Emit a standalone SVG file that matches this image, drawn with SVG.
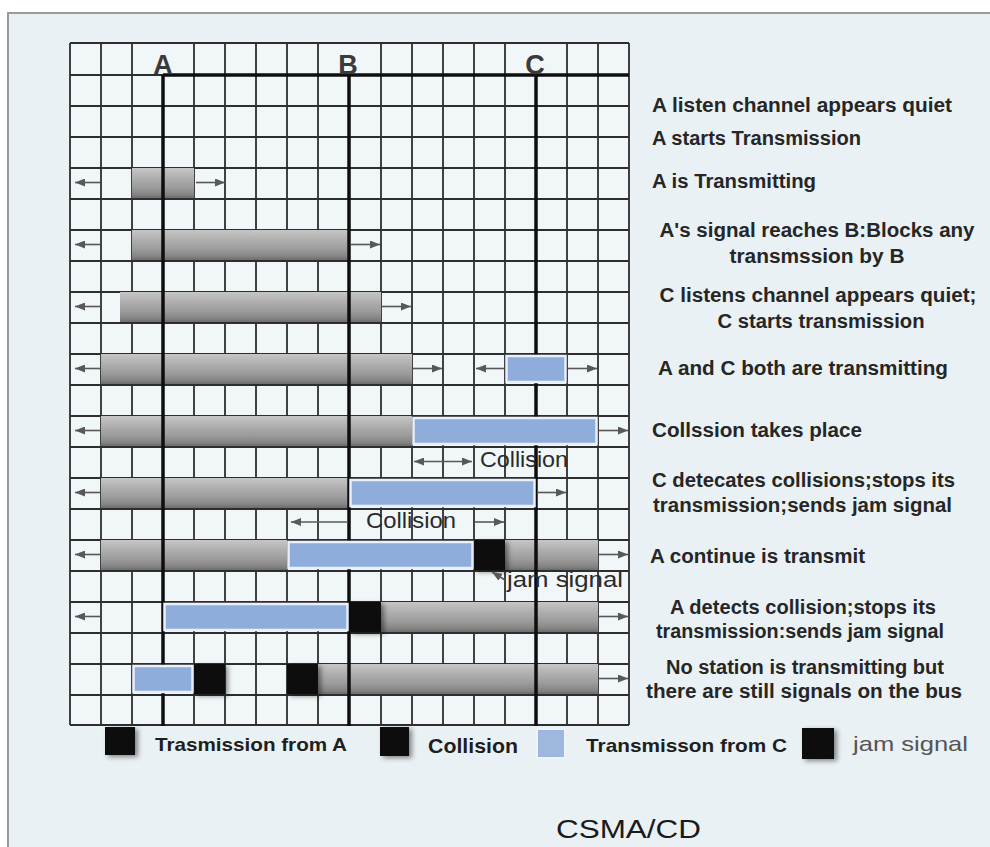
<svg xmlns="http://www.w3.org/2000/svg" width="990" height="847" viewBox="0 0 990 847">
<defs>
<style>
.grid{fill:none;stroke:#2e2e2e;stroke-width:1.8}
.bus{fill:none;stroke:#0e0e0e;stroke-width:3.5}
.gray{fill:url(#gGray)}
.blue{fill:#8eaddb;stroke:#e9f0fa;stroke-width:2.5}
.blk{fill:#0d0d0d;filter:url(#sh)}
.arr{fill:none;stroke:#585858;stroke-width:1.6;marker-end:url(#ah)}
.dbl{fill:none;stroke:#585858;stroke-width:1.6;marker-end:url(#ah);marker-start:url(#ah)}
.desc{font-family:"Liberation Sans",Arial,sans-serif;font-size:20px;font-weight:bold;fill:#262626}
.mid{text-anchor:middle}
.stn{font-family:"Liberation Sans",Arial,sans-serif;font-size:27px;font-weight:bold;fill:#3a3a3a;text-anchor:middle}
.lbl{font-family:"Liberation Sans",Arial,sans-serif;font-size:22px;fill:#2a2a2a}
.leg{font-family:"Liberation Sans",Arial,sans-serif;font-size:19px;font-weight:bold;fill:#1e1e1e}
</style>
<linearGradient id="gGray" x1="0" y1="0" x2="0" y2="1">
<stop offset="0" stop-color="#c6c6c6"/>
<stop offset="0.3" stop-color="#b1b1b1"/>
<stop offset="0.65" stop-color="#9b9b9b"/>
<stop offset="0.88" stop-color="#848484"/>
<stop offset="1" stop-color="#6c6c6c"/>
</linearGradient>
<filter id="sh" x="-30%" y="-30%" width="170%" height="170%">
<feDropShadow dx="3" dy="2" stdDeviation="2.5" flood-color="#000" flood-opacity="0.45"/>
</filter>
<marker id="ah" viewBox="0 0 10 8" refX="10" refY="4" markerWidth="10" markerHeight="8" markerUnits="userSpaceOnUse" orient="auto-start-reverse">
<path d="M0,0 L10,4 L0,8 z" fill="#585858"/>
</marker>
</defs>

<rect x="0" y="0" width="990" height="847" fill="#ffffff"/>
<rect id="panel" x="8" y="13" width="990" height="850" fill="#e9f1f4" stroke="#9b9b9b" stroke-width="2"/>
<rect x="70" y="43" width="559" height="682" fill="#f1f6f8"/>

<g id="grid">
<path class="grid" d="M70 43V725M101 43V725M132 43V725M194 43V725M225 43V725M256 43V725M287 43V725M318 43V725M381 43V725M412 43V725M443 43V725M474 43V725M505 43V725M567 43V725M598 43V725M629 43V725
M70 43H629M70 75H629M70 106H629M70 137H629M70 168H629M70 199H629M70 230H629M70 261H629M70 292H629M70 323H629M70 354H629M70 385H629M70 416H629M70 447H629M70 478H629M70 509H629M70 540H629M70 571H629M70 602H629M70 633H629M70 664H629M70 695H629M70 725H629"/>
</g>

<g id="gray-bars">
<rect class="gray" x="132" y="168" width="62" height="30"/>
<rect class="gray" x="132" y="230" width="217" height="30"/>
<rect class="gray" x="120" y="292" width="261" height="30"/>
<rect class="gray" x="101" y="354" width="311" height="30"/>
<rect class="gray" x="101" y="416" width="311" height="30"/>
<rect class="gray" x="101" y="478" width="248" height="30"/>
<rect class="gray" x="101" y="540" width="186" height="30"/>
<rect class="gray" x="505" y="540" width="93" height="30"/>
<rect class="gray" x="381" y="602" width="217" height="30"/>
<rect class="gray" x="318" y="664" width="280" height="30"/>
</g>

<g id="bus">
<path class="bus" d="M163 75H629M163 75V726M349 75V726M536 75V726"/>
</g>

<g id="stations">
<text id="station-a" class="stn" x="163" y="74">A</text>
<text id="station-b" class="stn" x="348" y="74">B</text>
<text id="station-c" class="stn" x="535" y="74">C</text>
</g>

<g id="signals">
<rect class="blue" x="506.5" y="356" width="59" height="26"/>
<rect class="blue" x="413.5" y="418" width="183" height="26"/>
<rect class="blue" x="350.5" y="480" width="184" height="26"/>
<rect class="blue" x="288.5" y="542" width="184" height="26"/>
<rect class="blk" x="474" y="540" width="31" height="30"/>
<rect class="blue" x="164.5" y="604" width="183" height="26"/>
<rect class="blk" x="349" y="602" width="32" height="30"/>
<rect class="blue" x="133.5" y="666" width="59" height="26"/>
<rect class="blk" x="194" y="664" width="31" height="30"/>
<rect class="blk" x="287" y="664" width="31" height="30"/>
</g>

<g id="connectors">
<path class="arr" d="M100 182.5H75"/>
<path class="arr" d="M100 244.5H75"/>
<path class="arr" d="M100 306.5H75"/>
<path class="arr" d="M100 368.5H75"/>
<path class="arr" d="M100 430.5H75"/>
<path class="arr" d="M100 492.5H75"/>
<path class="arr" d="M100 554.5H75"/>
<path class="arr" d="M100 616.5H75"/>
<path class="arr" d="M196 182.5H225"/>
<path class="arr" d="M351 244.5H380"/>
<path class="arr" d="M382 306.5H411"/>
<path class="arr" d="M413 368.5H442"/>
<path class="arr" d="M504 368.5H476"/>
<path class="arr" d="M568 368.5H597"/>
<path class="arr" d="M599 430.5H628"/>
<path class="arr" d="M537 492.5H566"/>
<path class="arr" d="M599 554.5H628"/>
<path class="arr" d="M599 616.5H628"/>
<path class="arr" d="M599 678.5H628"/>
<path class="dbl" d="M414 461.5H472"/>
<path class="arr" d="M348 522H291"/>
<path class="arr" d="M475 522H504"/>
<path class="arr" d="M505 580L492 572"/>
</g>

<g id="grid-labels">
<text class="lbl" x="480" y="467" textLength="88" lengthAdjust="spacingAndGlyphs">Collision</text>
<text class="lbl" x="366" y="528" textLength="90" lengthAdjust="spacingAndGlyphs">Collision</text>
<text class="lbl" x="507" y="587" textLength="116" lengthAdjust="spacingAndGlyphs">jam signal</text>
</g>

<g id="descriptions">
<text class="desc" x="652" y="112" textLength="300" lengthAdjust="spacingAndGlyphs">A listen channel appears quiet</text>
<text class="desc" x="652" y="145" textLength="209" lengthAdjust="spacingAndGlyphs">A starts Transmission</text>
<text class="desc" x="652" y="188" textLength="164" lengthAdjust="spacingAndGlyphs">A is Transmitting</text>
<text class="desc mid" x="817" y="237" textLength="315" lengthAdjust="spacingAndGlyphs">A's signal reaches B:Blocks any</text>
<text class="desc mid" x="817" y="263" textLength="175" lengthAdjust="spacingAndGlyphs">transmssion by B</text>
<text class="desc mid" x="818" y="302" textLength="317" lengthAdjust="spacingAndGlyphs">C listens channel appears quiet;</text>
<text class="desc mid" x="821" y="328" textLength="207" lengthAdjust="spacingAndGlyphs">C starts transmission</text>
<text class="desc" x="658" y="375" textLength="290" lengthAdjust="spacingAndGlyphs">A and C both are transmitting</text>
<text class="desc" x="652" y="437" textLength="210" lengthAdjust="spacingAndGlyphs">Collssion takes place</text>
<text class="desc" x="652" y="487" textLength="303" lengthAdjust="spacingAndGlyphs">C detecates collisions;stops its</text>
<text class="desc" x="653" y="512" textLength="299" lengthAdjust="spacingAndGlyphs">transmission;sends jam signal</text>
<text class="desc" x="650" y="563" textLength="215" lengthAdjust="spacingAndGlyphs">A continue is transmit</text>
<text class="desc mid" x="803" y="614" textLength="266" lengthAdjust="spacingAndGlyphs">A detects collision;stops its</text>
<text class="desc mid" x="800" y="638" textLength="288" lengthAdjust="spacingAndGlyphs">transmission:sends jam signal</text>
<text class="desc mid" x="805" y="674" textLength="278" lengthAdjust="spacingAndGlyphs">No station is transmitting but</text>
<text class="desc mid" x="804" y="698" textLength="316" lengthAdjust="spacingAndGlyphs">there are still signals on the bus</text>
</g>

<g id="legend">
<g id="legend-a">
<rect class="blk" x="105" y="727" width="30" height="28"/>
<text class="leg" x="155" y="751" textLength="192" lengthAdjust="spacingAndGlyphs">Trasmission from A</text>
</g>
<g id="legend-collision">
<rect class="blk" x="380" y="727" width="29" height="29"/>
<text class="leg" x="428" y="753" style="font-size:21px" textLength="90" lengthAdjust="spacingAndGlyphs">Collision</text>
</g>
<g id="legend-c">
<rect x="537" y="729" width="28" height="29" fill="#9db7df" stroke="#eef4fb" stroke-width="2"/>
<text class="leg" x="586" y="752" textLength="201" lengthAdjust="spacingAndGlyphs">Transmisson from C</text>
</g>
<g id="legend-jam">
<rect class="blk" x="802" y="728" width="32" height="31"/>
<text x="853" y="751" font-family="Liberation Sans, Arial, sans-serif" font-size="21" fill="#555" textLength="115" lengthAdjust="spacingAndGlyphs">jam signal</text>
</g>
</g>

<text id="title" x="556" y="838" font-family="Liberation Sans, Arial, sans-serif" font-size="26" fill="#1a1a1a" textLength="145" lengthAdjust="spacingAndGlyphs">CSMA/CD</text>
</svg>
